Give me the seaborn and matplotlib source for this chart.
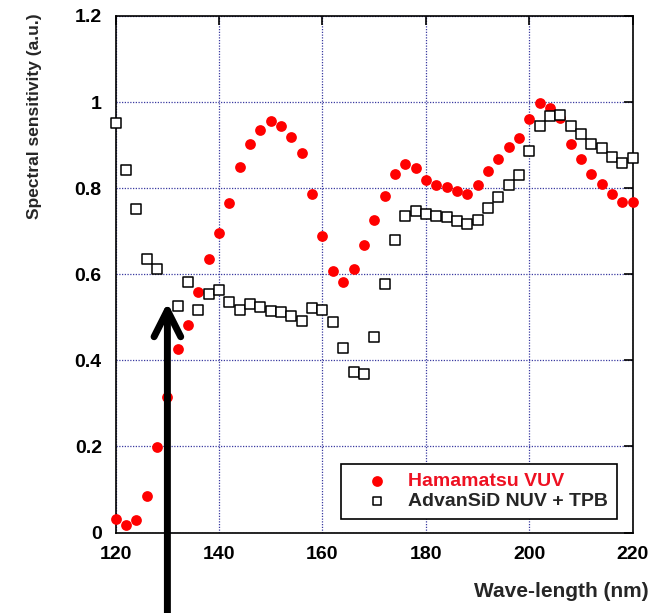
import matplotlib
matplotlib.use("Agg")
import numpy as np
import pandas as pd
import matplotlib.pyplot as plt
import seaborn as sns

# wavelength in nm, one point every 2 nm
wavelength = [120, 122, 124, 126, 128, 130, 132, 134, 136, 138,
              140, 142, 144, 146, 148, 150, 152, 154, 156, 158,
              160, 162, 164, 166, 168, 170, 172, 174, 176, 178,
              180, 182, 184, 186, 188, 190, 192, 194, 196, 198,
              200, 202, 204, 206, 208, 210, 212, 214, 216, 218, 220]

hamamatsu_vuv = [0.031, 0.017, 0.029, 0.085, 0.199, 0.314, 0.426, 0.481, 0.558, 0.636,
                 0.695, 0.765, 0.849, 0.902, 0.936, 0.955, 0.945, 0.919, 0.882, 0.786,
                 0.689, 0.608, 0.582, 0.613, 0.669, 0.725, 0.782, 0.833, 0.856, 0.846,
                 0.819, 0.807, 0.803, 0.793, 0.787, 0.807, 0.839, 0.868, 0.896, 0.917,
                 0.960, 0.999, 0.987, 0.964, 0.902, 0.868, 0.833, 0.809, 0.786, 0.769, 0.769]

advansid_nuv_tpb = [0.951, 0.843, 0.752, 0.636, 0.613, np.nan, 0.526, 0.581, 0.518, 0.553,
                    0.563, 0.535, 0.518, 0.532, 0.524, 0.515, 0.512, 0.503, 0.492, 0.522,
                    0.516, 0.489, 0.429, 0.373, 0.368, 0.455, 0.578, 0.679, 0.736, 0.748,
                    0.740, 0.736, 0.732, 0.724, 0.716, 0.726, 0.753, 0.779, 0.807, 0.830,
                    0.886, 0.944, 0.967, 0.971, 0.944, 0.926, 0.902, 0.893, 0.873, 0.859, 0.870]

x_ticks = [120, 140, 160, 180, 200, 220]
y_ticks = [0, 0.2, 0.4, 0.6, 0.8, 1.0, 1.2]
y_tick_labels = ["0", "0.2", "0.4", "0.6", "0.8", "1", "1.2"]

sns.set_style("white")
plt.rcParams["font.family"] = ["Liberation Sans", "DejaVu Sans"]
plt.rcParams["font.weight"] = "bold"

df = pd.DataFrame({"wavelength": wavelength,
                   "ham": hamamatsu_vuv,
                   "adv": advansid_nuv_tpb})

fig = plt.figure(figsize=(6.6, 6.13), dpi=100)
ax = fig.add_axes([0.1753, 0.1313, 0.7833, 0.8426])

sns.scatterplot(data=df, x="wavelength", y="ham", marker="o", s=60,
                color="#ff0000", edgecolor="#ff0000", linewidth=0,
                label="Hamamatsu VUV", ax=ax, zorder=3, clip_on=False)
sns.scatterplot(data=df.dropna(), x="wavelength", y="adv", marker="s", s=42,
                color="white", edgecolor="black", linewidth=1.1,
                label="AdvanSiD NUV + TPB", ax=ax, zorder=4, clip_on=False)

ax.set_xlim(120, 220)
ax.set_ylim(0, 1.2)
ax.set_xticks(x_ticks)
ax.set_yticks(y_ticks)
ax.set_yticklabels(y_tick_labels)
ax.grid(True, color="#3a3aa0", linestyle=(0, (1, 1.2)), linewidth=0.9)
ax.tick_params(direction="in", length=6.5, width=1.2, top=True, right=True,
               labelsize=14, pad=10, colors="black")
for sp in ax.spines.values():
    sp.set_visible(True)
    sp.set_color("black")
    sp.set_linewidth(1.2)

ax.set_xlabel("Wave-length (nm)", fontsize=15, fontweight="bold", loc="right")
ax.xaxis.set_label_coords(1.031, -0.095)
ax.set_ylabel("Spectral sensitivity (a.u.)", fontsize=12.5, fontweight="bold", loc="top")
ax.yaxis.set_label_coords(-0.1425, 1.006)

leg = ax.legend(loc="lower right", bbox_to_anchor=(0.969, 0.026), fontsize=14,
                frameon=True, fancybox=False, edgecolor="black", framealpha=1,
                borderpad=0.45, labelspacing=0.12, handlelength=2.8,
                handletextpad=0.2, borderaxespad=0)
leg.get_frame().set_linewidth(1.2)
leg.get_texts()[0].set_color("#ee1122")
leg.legend_handles[0].set_sizes([60])
leg.legend_handles[1].set_sizes([38])

# big arrow pointing at 130 nm
ax.annotate("", xy=(130, 0.534), xytext=(130, -0.2),
            arrowprops=dict(arrowstyle="->,head_length=0.95,head_width=0.48",
                            lw=5, color="black", mutation_scale=20,
                            shrinkA=0, shrinkB=0),
            annotation_clip=False)

fig.savefig("out.png", dpi=100)
